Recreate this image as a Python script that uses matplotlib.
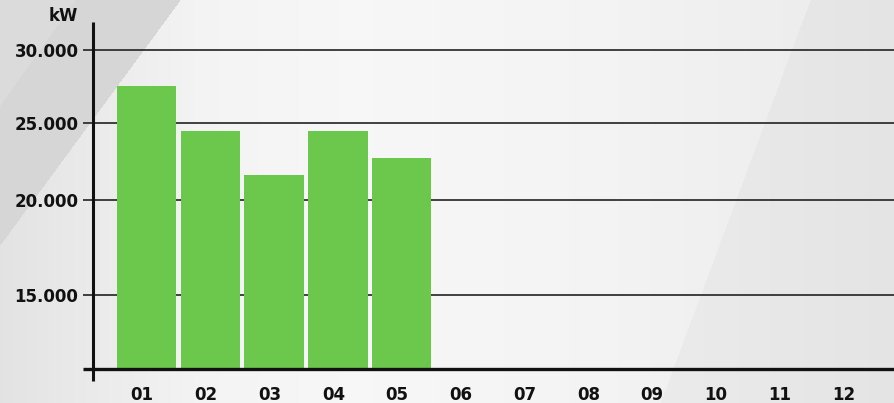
import numpy as np
import matplotlib.pyplot as plt

# datos del gráfico
meses = ['01', '02', '03', '04', '05', '06', '07', '08', '09', '10', '11', '12']
consumo = [27500, 24500, 21600, 24500, 22700]
ticks_y = [15000, 20000, 25000, 30000]
etiquetas_y = ['15.000', '20.000', '25.000', '30.000']

# la escala vertical del original no es lineal: tramos entre líneas de la rejilla
valores_ref = [10000, 15000, 20000, 25000, 30000, 35000]
pos_ref = [0, 74, 169, 246, 319, 392]


def adelante(v):
    return np.interp(v, valores_ref, pos_ref)


def atras(p):
    return np.interp(p, pos_ref, valores_ref)


W, H = 894, 403
fig = plt.figure(figsize=(W / 100, H / 100), dpi=100)

# fondo gris con degradado y franjas diagonales (coordenadas en píxeles, y hacia abajo)
fondo = fig.add_axes([0, 0, 1, 1], zorder=-10)
px, py = np.meshgrid(np.arange(W), np.arange(H))
gris = np.interp(px, [0, 200, 350, 600, 894], [0.89, 0.955, 0.97, 0.955, 0.92])
gris = np.where(px > 810 - 0.372 * py, gris - 0.025, gris)
gris = np.where(px < 180 - 0.735 * py, 0.84, gris)
gris = np.where((px < 180 - 0.735 * py) & (px < 75 - 0.714 * py), 0.86, gris)
fondo.imshow(np.dstack([gris, gris, gris]).clip(0, 1), extent=[0, W, H, 0],
             aspect='auto', interpolation='bilinear')
fondo.set_xlim(0, W)
fondo.set_ylim(H, 0)
fondo.axis('off')

ax = fig.add_axes([93 / W, 34 / H, 1 - 93 / W, 347 / H])
ax.patch.set_alpha(0)
ax.set_yscale('function', functions=(adelante, atras))

x = np.arange(1, len(meses) + 1)
ax.bar(x[:len(consumo)], consumo, width=0.93, color='#6cc84c', zorder=3)

ax.set_xlim(0.16, 12.72)
ax.set_ylim(10000, 31900)

ax.set_yticks(ticks_y)
ax.set_yticklabels(etiquetas_y)
# las etiquetas del original quedan un poco a la izquierda del centro de la barra
ax.set_xticks(x - 0.07)
ax.set_xticklabels(meses)
for lab in ax.get_xticklabels() + ax.get_yticklabels():
    lab.set_fontweight('bold')
    lab.set_fontsize(12)
    lab.set_color('#111111')

ax.grid(axis='y', color='#222222', linewidth=1.2, zorder=1)
ax.tick_params(axis='y', length=7.5, width=1.2, color='#222222', pad=3)
ax.tick_params(axis='x', length=0, pad=12)

for s in ax.spines.values():
    s.set_visible(False)

# ejes más gruesos, el vertical sobresale por debajo
ax.plot([0, 0], [-0.035, 1.0], transform=ax.transAxes, color='#111111',
        lw=2.2, clip_on=False, zorder=5, solid_capstyle='butt')
ax.plot([-0.013, 1.0], [0, 0], transform=ax.transAxes, color='#111111',
        lw=2.4, clip_on=False, zorder=5, solid_capstyle='butt')

fig.text(78 / W, 1 - 16 / H, 'kW', ha='right', va='center',
         fontsize=12, fontweight='bold', color='#111111')

fig.savefig('out.png', dpi=100)
